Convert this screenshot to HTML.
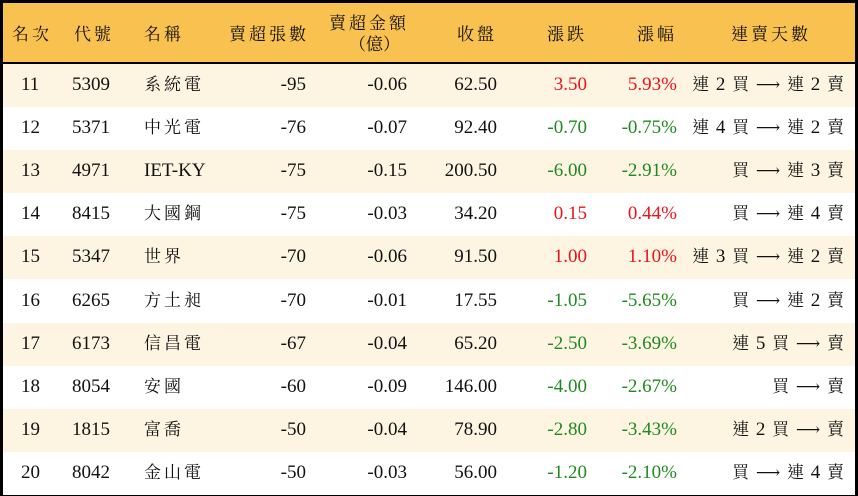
<!DOCTYPE html>
<html><head><meta charset="utf-8"><style>
*{margin:0;padding:0;box-sizing:border-box}
body{width:858px;height:496px;background:#000;overflow:hidden;font-family:"Liberation Serif","Noto Serif CJK TC","Noto Serif CJK SC",serif;font-size:19px;color:#111}
.wrap{position:absolute;left:3px;top:3px;width:852px;height:490px;background:#fff}
.hd{position:absolute;left:0;top:0;width:852px;height:59px;background:#f9c14f}
.line{position:absolute;left:0;top:59px;width:852px;height:2px;background:#000}
.row{position:absolute;left:0;width:852px;height:43.1px}
.c{position:absolute;white-space:nowrap;line-height:20px}
.r{color:#e8141b}.g{color:#1f8a1f}
.sp{letter-spacing:3px;font-size:17px}
.a{font-family:"DejaVu Serif",serif;font-size:17px}
</style></head><body><div class="wrap">
<div class="hd">
<div class="c sp" style="left:9px;top:22px">名次</div>
<div class="c sp" style="left:71px;top:22px">代號</div>
<div class="c sp" style="left:141px;top:22px">名稱</div>
<div class="c sp" style="right:546px;top:22px">賣超張數</div>
<div class="c sp" style="left:326px;top:11px">賣超金額</div>
<div class="c sp" style="left:346px;top:32px;letter-spacing:0">（億）</div>
<div class="c sp" style="right:358px;top:22px">收盤</div>
<div class="c sp" style="right:268px;top:22px">漲跌</div>
<div class="c sp" style="right:178px;top:22px">漲幅</div>
<div class="c sp" style="left:728px;top:22px">連賣天數</div>
</div>
<div class="line"></div>
<div id="rows"></div>
</div>
<script>
var d=[
["11","5309","系統電","-95","-0.06","62.50","3.50","5.93%","連 2 買 ⟶ 連 2 賣","r"],
["12","5371","中光電","-76","-0.07","92.40","-0.70","-0.75%","連 4 買 ⟶ 連 2 賣","g"],
["13","4971","IET-KY","-75","-0.15","200.50","-6.00","-2.91%","買 ⟶ 連 3 賣","g"],
["14","8415","大國鋼","-75","-0.03","34.20","0.15","0.44%","買 ⟶ 連 4 賣","r"],
["15","5347","世界","-70","-0.06","91.50","1.00","1.10%","連 3 買 ⟶ 連 2 賣","r"],
["16","6265","方土昶","-70","-0.01","17.55","-1.05","-5.65%","買 ⟶ 連 2 賣","g"],
["17","6173","信昌電","-67","-0.04","65.20","-2.50","-3.69%","連 5 買 ⟶ 賣","g"],
["18","8054","安國","-60","-0.09","146.00","-4.00","-2.67%","買 ⟶ 賣","g"],
["19","1815","富喬","-50","-0.04","78.90","-2.80","-3.43%","連 2 買 ⟶ 賣","g"],
["20","8042","金山電","-50","-0.03","56.00","-1.20","-2.10%","買 ⟶ 連 4 賣","g"]];
var h="";
d.forEach(function(r,i){
var top=61+i*43.1;
var nm=r[2]=="IET-KY"?'<div class="c" style="left:141px;top:11px">IET-KY</div>':'<div class="c sp" style="left:141px;top:11px">'+r[2]+'</div>';
var lx=r[8].replace(/([^ 0-9⟶]+)/g,'<span style="font-size:17px">$1</span>').replace('⟶','<span class="a">⟶</span>');
h+='<div class="row" style="top:'+top+'px;background:'+(i%2==0?'#fdf5e2':'#fff')+'">'+
'<div class="c" style="left:18px;top:11px">'+r[0]+'</div>'+
'<div class="c" style="left:69px;top:11px">'+r[1]+'</div>'+nm+
'<div class="c" style="right:549px;top:11px">'+r[3]+'</div>'+
'<div class="c" style="right:448px;top:11px">'+r[4]+'</div>'+
'<div class="c" style="right:358px;top:11px">'+r[5]+'</div>'+
'<div class="c '+r[9]+'" style="right:268px;top:11px">'+r[6]+'</div>'+
'<div class="c '+r[9]+'" style="right:178px;top:11px">'+r[7]+'</div>'+
'<div class="c" style="right:10px;top:11px;letter-spacing:1px">'+lx+'</div>'+
'</div>';});
document.getElementById("rows").innerHTML=h;
</script>
</body></html>
